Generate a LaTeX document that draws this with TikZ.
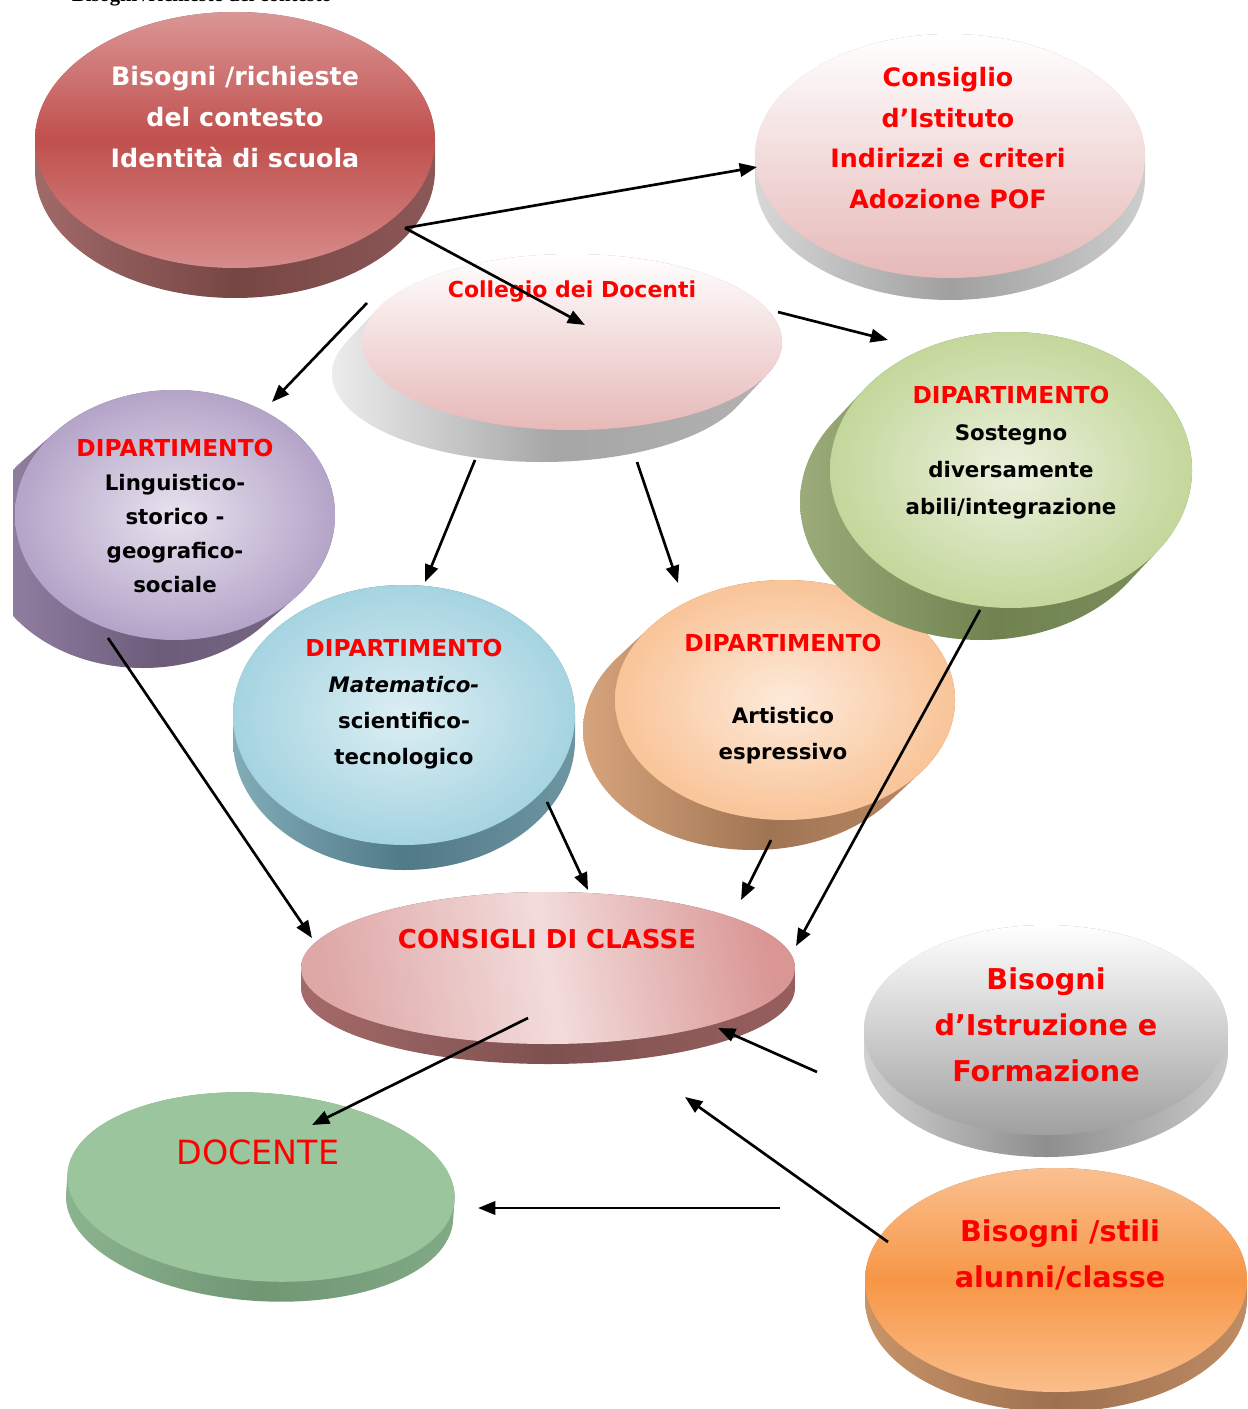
\documentclass[tikz,border=0pt]{standalone}
\usepackage{fontspec}
\setmainfont{DejaVu Sans}
\newfontfamily\topserif{Liberation Serif}
\usetikzlibrary{arrows.meta,shapes.geometric}
\definecolor{myred}{HTML}{FF0000}
\newcommand\drawdisc[8]{%
  \path[#7] \foreach \i in {0,...,20}{({#1+#5*\i/20},{#2+#6*\i/20}) ellipse [x radius=#3, y radius=#4]};
  \path[#8] (#1,#2) ellipse [x radius=#3, y radius=#4];}
\tikzset{
  txt/.style={align=center, inner sep=0pt, font=\bfseries\fontsize{19}{30.5}\selectfont},
  redtxt/.style={txt, text=myred},
  depttxt/.style={align=center, inner sep=0pt, font=\bfseries\fontsize{16}{27}\selectfont},
  bigtxt/.style={align=center, inner sep=0pt, text=myred, font=\bfseries\fontsize{21.5}{34.5}\selectfont},
  arr/.style={draw=black, line width=2pt, -{Triangle[length=13pt,width=10pt]}},
}
\newcommand\dtitle[1]{\textcolor{myred}{\fontsize{17.5}{27}\selectfont #1}}
\begin{document}
\begin{tikzpicture}[x=0.75pt,y=-0.75pt]
\useasboundingbox (0,0) rectangle (1248,1409);
\fill[white] (0,0) rectangle (1248,1409);
% cut-off heading
\node[anchor=base, inner sep=0pt, font=\topserif\bfseries\fontsize{15.5}{18}\selectfont] (head) at (202,2) {Bisogni /richieste del contesto};
% Collegio dei Docenti
\drawdisc{572}{342}{210}{88}{-30}{32}{left color=white!85!gray, right color=gray!60, middle color=gray!70}{top color=white, bottom color={rgb,255:red,230;green,185;blue,184}}
% Bisogni / richieste (red)
\drawdisc{235}{140}{200}{128}{0}{30}{left color={rgb,255:red,160;green,106;blue,105}, right color={rgb,255:red,140;green,88;blue,87}, middle color={rgb,255:red,118;green,70;blue,69}}{top color={rgb,255:red,218;green,150;blue,149}, bottom color={rgb,255:red,214;green,140;blue,139}, middle color={rgb,255:red,192;green,80;blue,77}}
% Consiglio d'Istituto
\drawdisc{950}{156}{195}{122}{0}{22}{left color={rgb,255:red,215;green,215;blue,215}, right color={rgb,255:red,205;green,205;blue,205}, middle color={rgb,255:red,160;green,160;blue,160}}{top color=white, bottom color={rgb,255:red,230;green,185;blue,184}}
% Purple dept
\begin{scope}
\clip (13,0) rectangle (1248,1409);
\drawdisc{175}{515}{160}{125}{-32}{28}{left color={rgb,255:red,150;green,132;blue,168}, right color={rgb,255:red,120;green,105;blue,135}, middle color={rgb,255:red,108;green,92;blue,122}}{inner color={rgb,255:red,232;green,226;blue,238}, outer color={rgb,255:red,180;green,164;blue,200}}
\end{scope}
% Blue dept
\drawdisc{404}{715}{171}{130}{0}{25}{left color={rgb,255:red,130;green,172;blue,184}, right color={rgb,255:red,110;green,150;blue,162}, middle color={rgb,255:red,80;green,122;blue,134}}{inner color={rgb,255:red,220;green,238;blue,243}, outer color={rgb,255:red,165;green,212;blue,225}}
% Peach dept
\drawdisc{785}{700}{170}{120}{-32}{30}{left color={rgb,255:red,214;green,164;blue,124}, right color={rgb,255:red,190;green,140;blue,105}, middle color={rgb,255:red,160;green,116;blue,83}}{inner color={rgb,255:red,253;green,234;blue,218}, outer color={rgb,255:red,249;green,196;blue,152}}
% Green dept
\drawdisc{1011}{470}{181}{138}{-30}{32}{left color={rgb,255:red,155;green,172;blue,122}, right color={rgb,255:red,125;green,145;blue,95}, middle color={rgb,255:red,111;green,130;blue,80}}{inner color={rgb,255:red,235;green,241;blue,222}, outer color={rgb,255:red,196;green,215;blue,155}}
% Consigli di classe
\drawdisc{548}{968}{247}{76}{0}{20}{left color={rgb,255:red,164;green,106;blue,105}, right color={rgb,255:red,150;green,95;blue,94}, middle color={rgb,255:red,126;green,81;blue,80}}{left color={rgb,255:red,222;green,168;blue,167}, right color={rgb,255:red,217;green,150;blue,148}, middle color={rgb,255:red,242;green,220;blue,219}, shading angle=100}
% Bisogni d'Istruzione (grey)
\drawdisc{1046}{1030}{182}{105}{0}{22}{left color={rgb,255:red,208;green,208;blue,208}, right color={rgb,255:red,200;green,200;blue,200}, middle color={rgb,255:red,142;green,142;blue,142}}{top color=white, bottom color={rgb,255:red,160;green,160;blue,160}}
% Bisogni / stili (orange)
\drawdisc{1056}{1280}{191}{112}{0}{20}{left color={rgb,255:red,200;green,148;blue,104}, right color={rgb,255:red,190;green,140;blue,100}, middle color={rgb,255:red,158;green,112;blue,80}}{top color={rgb,255:red,250;green,192;blue,144}, bottom color={rgb,255:red,250;green,190;blue,140}, middle color={rgb,255:red,247;green,150;blue,70}}
% DOCENTE
\begin{scope}[rotate around={-4:(261,1187)}]
\drawdisc{261}{1187}{194}{94}{0}{20}{left color={rgb,255:red,140;green,180;blue,143}, right color={rgb,255:red,130;green,170;blue,133}, middle color={rgb,255:red,112;green,150;blue,116}}{fill={rgb,255:red,155;green,197;blue,157}}
\end{scope}

% texts
\node[txt, text=white] (tBis) at (235,117) {Bisogni /richieste\\del contesto\\Identità di scuola};
\node[redtxt] (tCons) at (948,138) {Consiglio\\d'Istituto\\Indirizzi e criteri\\Adozione POF};
\node[redtxt, font=\bfseries\fontsize{16.5}{30}\selectfont] (tColl) at (572,292) {Collegio dei Docenti};
\node[depttxt, font=\bfseries\fontsize{16}{25.5}\selectfont] (tLing) at (175,516) {\dtitle{DIPARTIMENTO}\\Linguistico-\\storico -\\geografico-\\sociale};
\node[depttxt, font=\bfseries\fontsize{16}{27.75}\selectfont] (tSost) at (1011,453) {\dtitle{DIPARTIMENTO}\\Sostegno\\diversamente\\abili/integrazione};
\node[depttxt] (tArt) at (783,699) {\dtitle{DIPARTIMENTO}\\[27pt]Artistico\\espressivo};
\node[depttxt] (tMat) at (404,704) {\dtitle{DIPARTIMENTO}\\\textit{Matematico-}\\scientifico-\\tecnologico};
\node[redtxt, font=\bfseries\fontsize{19.5}{30}\selectfont] (tCdc) at (547,939) {CONSIGLI DI CLASSE};
\node[bigtxt] (tIstr) at (1046,1025) {Bisogni\\d'Istruzione e\\Formazione};
\node[bigtxt] (tStili) at (1060,1255) {Bisogni /stili\\alunni/classe};
\node[align=center, inner sep=0pt, text=myred, font=\fontsize{25}{30}\selectfont] (tDoc) at (258,1152) {DOCENTE};

% connector end points
\coordinate (bisOut) at (405,228);
\coordinate (consIn) at (757,167);
\coordinate (collIn) at (585,325);
\coordinate (collL) at (367,303);
\coordinate (lingIn) at (272,402);
\coordinate (collR) at (778,312);
\coordinate (sostIn) at (888,340);
\coordinate (collB1) at (475,460);
\coordinate (matIn) at (425,582);
\coordinate (collB2) at (637,462);
\coordinate (artIn) at (678,583);
\coordinate (lingOut) at (108,638);
\coordinate (cdcL) at (312,938);
\coordinate (matOut) at (547,802);
\coordinate (cdcT) at (588,890);
\coordinate (artOut) at (771,840);
\coordinate (cdcT2) at (741,900);
\coordinate (sostOut) at (980,610);
\coordinate (cdcR) at (796,946);
\coordinate (istrOut) at (817,1072);
\coordinate (cdcBR) at (718,1028);
\coordinate (cdcIn) at (528,1018);
\coordinate (docIn) at (312,1125);
\coordinate (stiliOut) at (888,1242);
\coordinate (cdcB) at (685,1097);
\coordinate (midOut) at (780,1208);
\coordinate (docR) at (478,1208);

\draw[arr] (bisOut) -- (consIn);
\draw[arr] (bisOut) -- (collIn);
\draw[arr] (collL) -- (lingIn);
\draw[arr] (collR) -- (sostIn);
\draw[arr] (collB1) -- (matIn);
\draw[arr] (collB2) -- (artIn);
\draw[arr] (lingOut) -- (cdcL);
\draw[arr] (matOut) -- (cdcT);
\draw[arr] (artOut) -- (cdcT2);
\draw[arr] (sostOut) -- (cdcR);
\draw[arr] (istrOut) -- (cdcBR);
\draw[arr] (cdcIn) -- (docIn);
\draw[arr] (stiliOut) -- (cdcB);
\draw[arr] (midOut) -- (docR);
\end{tikzpicture}
\end{document}
